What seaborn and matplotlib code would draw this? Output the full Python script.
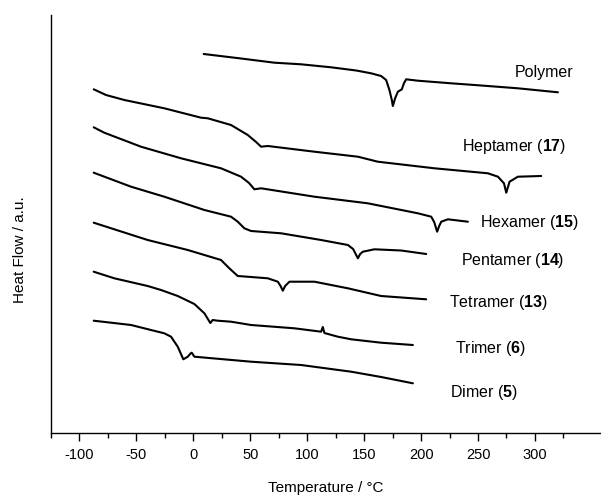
import numpy as np
import pandas as pd
import matplotlib
matplotlib.use("Agg")
import matplotlib.pyplot as plt
import seaborn as sns
from matplotlib.ticker import FixedLocator

# DSC traces (temperature in degC, heat flow in a.u. with offsets)
polymer_t = [9.1, 41.9, 71.2, 94.6, 121.0, 143.0, 156.1, 164.9, 169.3, 172.2, 174.3, 175.2,
             177.2, 179.6, 183.1, 184.9, 186.9, 197.2, 226.4, 252.8, 285.0, 320.2]
polymer_h = [379, 374.5, 370.3, 368.7, 365.7, 362.5, 359.7, 357, 353, 343, 333, 327,
             334.7, 341.3, 343.7, 349.7, 353.7, 352.3, 349.7, 347.5, 344.7, 340.7]

heptamer_t = [-87.5, -76.7, -60.6, -25.5, 6.8, 12.7, 33.1, 47.8, 55.1, 59.5, 65.4, 106.3,
              144.5, 162.0, 211.8, 258.7, 267.5, 272.8, 274.8, 277.7, 285.0, 305.5]
heptamer_h = [343.7, 338, 333, 324.7, 315.3, 314.7, 308, 298, 291, 286.3, 287, 281.3,
              276.3, 271.3, 264.7, 259.7, 256.3, 249.7, 240.3, 251.3, 256.3, 257]

hexamer_t = [-87.5, -78.2, -46.0, -10.8, 24.3, 41.9, 48.9, 53.6, 59.5, 106.3, 153.2, 197.2,
             208.9, 211.5, 214.1, 215.9, 217.7, 223.5, 241.1]
hexamer_h = [305.7, 300.3, 286.3, 274.7, 264.7, 256.3, 250, 243.7, 244.7, 236.3, 229.7, 219.7,
             216.3, 211, 201.3, 207, 211.3, 213.7, 211.3]

pentamer_t = [-87.5, -54.7, -25.5, 9.7, 33.1, 39.0, 44.8, 50.7, 77.1, 112.2, 135.7, 140.3,
              144.5, 146.5, 148.9, 159.0, 182.5, 204.5]
pentamer_h = [260.3, 246.3, 236.3, 223, 216.3, 211.3, 204.7, 202, 199.7, 193, 188, 184,
              174.7, 179, 181.3, 183.7, 182.5, 179]

tetramer_t = [-87.5, -40.1, -4.9, 24.3, 31.6, 39.0, 50.7, 65.4, 74.2, 76.6, 78.6, 80.6,
              84.4, 106.3, 135.7, 164.9, 204.5]
tetramer_h = [210.3, 193, 183, 173, 164.7, 157, 156, 154.7, 151.3, 147, 142.3, 147,
              151.3, 151.3, 144.7, 137, 133.7]

trimer_t = [-87.5, -69.4, -40.1, -28.4, -13.7, 0.9, 9.7, 14.9, 17.0, 21.4, 33.1, 50.7,
            88.7, 112.2, 113.7, 115.1, 126.9, 138.6, 164.9, 192.8]
trimer_h = [161.3, 154.7, 147, 143, 137, 129, 119.7, 110, 113, 112.3, 111.3, 108,
            104.7, 101.3, 106, 100, 96.3, 93.7, 90.3, 88]

dimer_t = [-87.5, -54.7, -37.2, -25.5, -19.6, -13.7, -8.8, -4.9, -2.5, -1.4, 0.9, 50.7,
           94.6, 138.6, 164.9, 192.8]
dimer_h = [112.3, 108, 103, 99.7, 96.3, 86.3, 73.7, 76.3, 79.5, 80.3, 76.3, 71.3,
           68, 61.3, 56, 49.7]

labels = [r"Polymer", r"Heptamer ($\mathbf{17}$)", r"Hexamer ($\mathbf{15}$)",
          r"Pentamer ($\mathbf{14}$)", r"Tetramer ($\mathbf{13}$)",
          r"Trimer ($\mathbf{6}$)", r"Dimer ($\mathbf{5}$)"]
label_t = [308.2, 281.4, 295.0, 280.5, 268.2, 261.2, 255.0]
label_h = [361, 286, 210, 172.3, 130, 85, 41]

major_ticks = [-100, -50, 0, 50, 100, 150, 200, 250, 300]
minor_ticks = [-125, -75, -25, 25, 75, 125, 175, 225, 275, 325]

curves = [(polymer_t, polymer_h), (heptamer_t, heptamer_h), (hexamer_t, hexamer_h),
          (pentamer_t, pentamer_h), (tetramer_t, tetramer_h), (trimer_t, trimer_h),
          (dimer_t, dimer_h)]

frames = []
for name, (t, h) in zip(labels, curves):
    frames.append(pd.DataFrame({"temp": t, "heat": h, "sample": name}))
df = pd.concat(frames, ignore_index=True)

sns.set_theme(style="ticks")
plt.rcParams["font.family"] = ["Liberation Sans", "DejaVu Sans"]
plt.rcParams["mathtext.fontset"] = "custom"
plt.rcParams["mathtext.rm"] = "Liberation Sans"
plt.rcParams["mathtext.bf"] = "Liberation Sans:bold"
plt.rcParams["axes.unicode_minus"] = False

fig = plt.figure(figsize=(6.01, 4.95), dpi=100)
ax = fig.add_axes([51 / 601, 62 / 495, 1 - 51 / 601, 418 / 495])

sns.lineplot(data=df, x="temp", y="heat", units="sample", estimator=None, sort=False,
             color="black", linewidth=1.5, ax=ax, legend=False)

for text, t, h in zip(labels, label_t, label_h):
    ax.text(t, h, text, ha="center", va="center", fontsize=11.5, color="black")

ax.set_xlim(-125, 358)
ax.set_ylim(0, 418)
ax.set_yticks([])
ax.xaxis.set_major_locator(FixedLocator(major_ticks))
ax.xaxis.set_minor_locator(FixedLocator(minor_ticks))
ax.tick_params(axis="x", which="major", length=6, width=1, labelsize=10.5, color="black",
               labelcolor="black", pad=5)
ax.tick_params(axis="x", which="minor", length=3.5, width=1, color="black")
sns.despine(ax=ax, top=True, right=True)
for side in ["left", "bottom"]:
    ax.spines[side].set_color("black")
    ax.spines[side].set_linewidth(1)

ax.set_xlabel("Temperature / °C", fontsize=11, color="black")
ax.xaxis.set_label_coords(0.5, -(481 - 433) / 418)
ax.set_ylabel("Heat Flow / a.u.", fontsize=11, color="black")
ax.yaxis.set_label_coords((27 - 51) / 550, (433 - 250) / 418)

fig.savefig("out.png", dpi=100)
